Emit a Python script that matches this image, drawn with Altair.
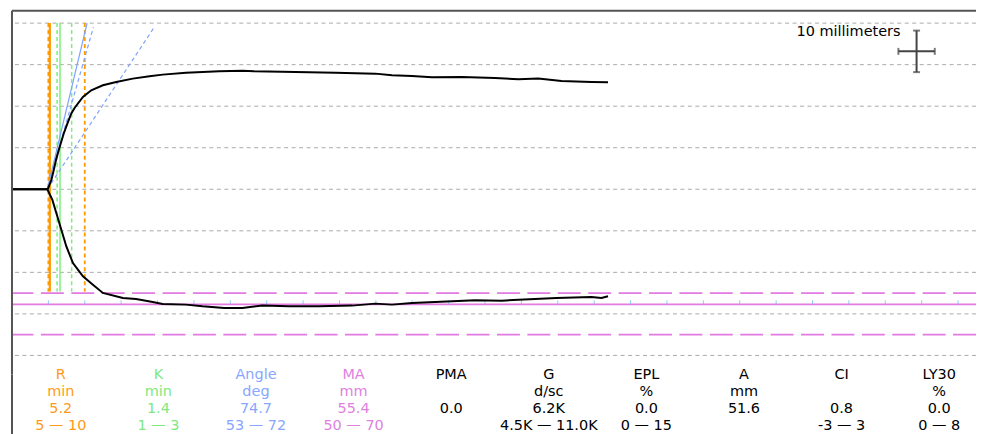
import math
import altair as alt
import pandas as pd

# ---------------- data ----------------
upper_t = [0, 4.73, 4.96, 5.41, 5.74, 6.10, 6.56, 7.11, 7.70, 8.15, 8.62, 9.75, 10.89, 12.49, 14.32,
           16.60, 18.89, 20.71, 23.90, 28.48, 31.67, 33.27, 38.97, 44.45, 49.93, 52.22, 54.96, 57.70,
           61.81, 66.37, 69.58, 72.32, 75.51, 79.62, 81.90]
upper_mm = [0, 0, 0.24, 2.23, 4.63, 7.44, 10.22, 13.44, 16.22, 18.24, 19.63, 22.22, 23.83, 25.03, 25.82,
            26.64, 27.19, 27.60, 28.08, 28.39, 28.56, 28.39, 28.22, 28.08, 27.84, 27.43, 27.26, 26.95,
            27.02, 26.78, 26.47, 26.64, 26.06, 25.82, 25.75]
lower_t = [0, 4.86, 5.55, 6.10, 6.78, 7.47, 8.38, 9.75, 11.12, 12.49, 15.23, 17.05, 19.34, 20.71, 23.90,
           26.19, 29.16, 31.67, 34.41, 38.07, 42.18, 46.74, 49.93, 52.22, 54.96, 58.15, 63.63, 67.29,
           69.58, 71.85, 74.82, 79.62, 81.0, 81.9]
lower_mm = [0, 0, -2.57, -5.76, -9.74, -13.77, -17.76, -20.97, -22.97, -24.96, -26.16, -26.40, -27.12,
            -27.60, -27.77, -28.17, -28.56, -28.56, -28.01, -28.17, -28.17, -28.01, -27.53, -27.77,
            -27.36, -27.12, -26.73, -26.81, -26.57, -26.40, -26.16, -25.92, -26.16, -25.77]

R = 5.2
K = 1.4
ANGLE = 74.7
MA = 55.4
R_RANGE = [5, 10]
K_RANGE = [1, 3]
ANGLE_RANGE = [53, 72]
MA_RANGE = [50, 70]
SPLIT_T = 4.85
MARKER_TOP, MARKER_BOTTOM = 40, -24.6

grid_mm = [-40, -30, -20, -10, 0, 10, 20, 30, 40]
tick_minutes = list(range(5, 131, 5))

names = ["R", "K", "Angle", "MA", "PMA", "G", "EPL", "A", "CI", "LY30"]
units = ["min", "min", "deg", "mm", "", "d/sc", "%", "mm", "", "%"]
values = ["5.2", "1.4", "74.7", "55.4", "0.0", "6.2K", "0.0", "51.6", "0.8", "0.0"]
ranges = ["5 — 10", "1 — 3", "53 — 72", "50 — 70", "", "4.5K — 11.0K", "0 — 15", "", "-3 — 3", "0 — 8"]

# ---------------- styling ----------------
ORANGE = "#FF9A00"
GREEN = "#7CF07C"
BLUE = "#7FA2FF"
PINK = "#E27AE2"
GRID = "#AAAAAA"
FRAME = "#555555"
FONT = "DejaVu Sans"
FS = 14.5
col_colors = ["#FF9A1A", "#80E880", "#88A6FF", "#E07FE0"] + ["#000000"] * 6

W = 967
H1 = 350
GAP = 15
PITCH = 17.2
H2 = 3 * PITCH
COL_PX = 97.9
PX_PER_MIN = 7.3
PX_PER_MM = 4.1667
Y_TOP = 43.0

xs = alt.Scale(domain=[0, W / PX_PER_MIN], nice=False, zero=False)
ys = alt.Scale(domain=[Y_TOP - H1 / PX_PER_MM, Y_TOP], nice=False, zero=False)
col_scale = alt.Scale(domain=[-0.5, -0.5 + W / COL_PX], nice=False, zero=False)

curve = pd.DataFrame({
    "t": upper_t + lower_t,
    "mm": upper_mm + lower_mm,
    "side": ["upper"] * len(upper_t) + ["lower"] * len(lower_t),
    "i": list(range(len(upper_t))) + list(range(len(lower_t))),
})

grid_df = pd.DataFrame({"mm": grid_mm})
pink_dash_df = pd.DataFrame({"mm": [-v / 2 for v in MA_RANGE]})
pink_solid_df = pd.DataFrame({"mm": [-MA / 2]})
ticks_df = pd.DataFrame({"t": tick_minutes, "mm": [-MA / 2] * len(tick_minutes)})

verts = pd.DataFrame({
    "t": [R_RANGE[0], R_RANGE[1], R + K_RANGE[0], R + K_RANGE[1], R, R + K],
    "kind": ["R", "R", "K", "K", "R", "K"],
    "dash": [True, True, True, True, False, False],
    "top": [MARKER_TOP] * 6,
    "bot": [MARKER_BOTTOM] * 6,
})

ang_list = [ANGLE_RANGE[0], ANGLE_RANGE[1], ANGLE]
ang_top = [39, 39, 40]
angle_df = pd.DataFrame({
    "t0": [SPLIT_T] * 3,
    "y0": [0] * 3,
    "t1": [SPLIT_T + h / (2 * math.tan(math.radians(a))) for a, h in zip(ang_list, ang_top)],
    "y1": ang_top,
    "dash": [True, True, False],
})


def X(f):
    return alt.X(f, scale=xs, axis=None)


def Y(f):
    return alt.Y(f, scale=ys, axis=None)


grid = alt.Chart(grid_df).mark_rule(color=GRID, strokeDash=[4, 3.5], strokeWidth=1).encode(y=Y("mm:Q"))
pink_dash = alt.Chart(pink_dash_df).mark_rule(color=PINK, strokeDash=[23, 7.5], strokeWidth=1.6).encode(y=Y("mm:Q"))
pink_solid = alt.Chart(pink_solid_df).mark_rule(color=PINK, strokeWidth=1.6).encode(y=Y("mm:Q"))
ticks = alt.Chart(ticks_df).mark_tick(orient="vertical", size=4, thickness=1, color="#63B4F2", yOffset=-2).encode(
    x=X("t:Q"), y=Y("mm:Q"))


def vlines(kind, color, dash, width):
    d = verts[(verts.kind == kind) & (verts.dash == dash)]
    m = alt.Chart(d).mark_rule(color=color, strokeWidth=width, strokeDash=[4, 3] if dash else [1, 0])
    return m.encode(x=X("t:Q"), y=Y("top:Q"), y2="bot:Q")


orange_d = vlines("R", ORANGE, True, 1.8)
orange_s = vlines("R", ORANGE, False, 2.2)
green_d = vlines("K", GREEN, True, 1.5)
green_s = vlines("K", GREEN, False, 1.5)

ang_d = alt.Chart(angle_df[angle_df.dash]).mark_rule(color=BLUE, strokeWidth=1.2, strokeDash=[4, 3]).encode(
    x=X("t0:Q"), y=Y("y0:Q"), x2="t1:Q", y2="y1:Q")
ang_s = alt.Chart(angle_df[~angle_df.dash]).mark_rule(color=BLUE, strokeWidth=1.2).encode(
    x=X("t0:Q"), y=Y("y0:Q"), x2="t1:Q", y2="y1:Q")

curve_line = alt.Chart(curve).mark_line(color="#000000", strokeWidth=2, interpolate="linear").encode(
    x=X("t:Q"), y=Y("mm:Q"), detail="side:N", order="i:Q")

# scale bar annotation
SB_T, SB_MM = 124.3, 33.2
sb_v = alt.Chart(pd.DataFrame({"t": [SB_T], "a": [SB_MM - 5], "b": [SB_MM + 5]})).mark_rule(
    color="#444444", strokeWidth=2).encode(x=X("t:Q"), y=Y("a:Q"), y2="b:Q")
sb_h = alt.Chart(pd.DataFrame({"a": [SB_T - 2.5], "b": [SB_T + 2.5], "mm": [SB_MM]})).mark_rule(
    color="#444444", strokeWidth=2).encode(x=X("a:Q"), x2="b:Q", y=Y("mm:Q"))
sb_cap_v = alt.Chart(pd.DataFrame({"t": [SB_T, SB_T], "mm": [SB_MM - 5, SB_MM + 5]})).mark_tick(
    orient="horizontal", size=7, thickness=2, color="#444444").encode(x=X("t:Q"), y=Y("mm:Q"))
sb_cap_h = alt.Chart(pd.DataFrame({"t": [SB_T - 2.5, SB_T + 2.5], "mm": [SB_MM, SB_MM]})).mark_tick(
    orient="vertical", size=7, thickness=2, color="#444444").encode(x=X("t:Q"), y=Y("mm:Q"))
sb_text = alt.Chart(pd.DataFrame({"t": [SB_T - 2.2], "mm": [37.75], "s": ["10 millimeters"]})).mark_text(
    align="right", baseline="middle", font=FONT, fontSize=FS, color="#000000").encode(
    x=X("t:Q"), y=Y("mm:Q"), text="s:N")

frame_top = alt.Chart(pd.DataFrame({"a": [0]})).mark_rule(color=FRAME, strokeWidth=2).encode(
    x=alt.value(0), x2=alt.value(W), y=alt.value(0))
frame_left = alt.Chart(pd.DataFrame({"a": [0]})).mark_rule(color=FRAME, strokeWidth=2).encode(
    x=alt.value(0), y=alt.value(0), y2=alt.value(H1 + GAP))

top = alt.layer(
    grid, pink_dash, pink_solid, ticks,
    orange_d, green_d, green_s, orange_s, ang_d, ang_s,
    curve_line, sb_v, sb_h, sb_cap_v, sb_cap_h, sb_text,
    frame_top, frame_left,
).properties(width=W, height=H1)

rows = ["name", "unit", "value", "range"]
table_records = []
for i, n in enumerate(names):
    for r, txt in zip(rows, [names[i], units[i], values[i], ranges[i]]):
        table_records.append({"k": i, "row": r, "txt": txt, "color": col_colors[i]})
table_df = pd.DataFrame(table_records)

table_text = alt.Chart(table_df).mark_text(font=FONT, fontSize=FS, baseline="middle", align="center").encode(
    x=alt.X("k:Q", scale=col_scale, axis=None),
    y=alt.Y("row:N", sort=rows, scale=alt.Scale(padding=0), axis=None),
    text="txt:N",
    color=alt.Color("color:N", scale=None),
)
table_left = alt.Chart(pd.DataFrame({"a": [0]})).mark_rule(color=FRAME, strokeWidth=2).encode(
    x=alt.value(0), y=alt.value(0), y2=alt.value(H2 + 10))
table = alt.layer(table_text, table_left).properties(width=W, height=H2)

chart = alt.vconcat(top, table, spacing=GAP, bounds="flush").properties(
    padding={"left": 0, "top": 1, "right": 0, "bottom": 0}
).configure_view(stroke=None)

chart.save("out.html", embed_options={"renderer": "svg", "actions": False})
